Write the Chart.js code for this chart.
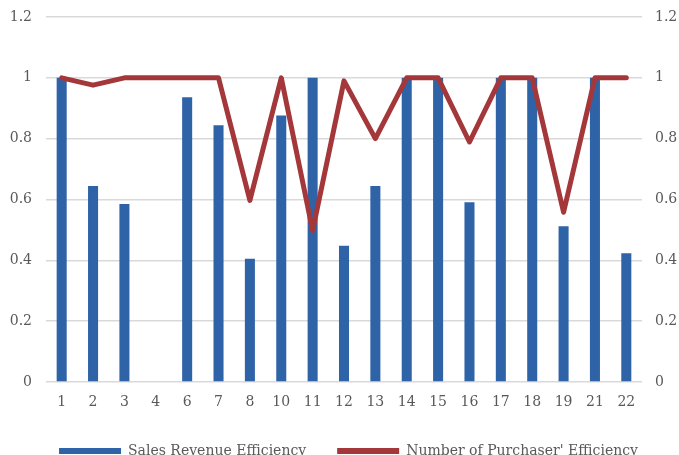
<!DOCTYPE html>
<html>
<head>
<meta charset="utf-8">
<script src="https://cdn.jsdelivr.net/npm/chart.js@4/dist/chart.umd.min.js"></script>
<style>
html,body{margin:0;padding:0;background:#fff;overflow:hidden;}
#wrap{width:679px;height:468px;}
</style>
</head>
<body>
<div id="wrap"><canvas id="c" width="679" height="468"></canvas></div>
<script>
const categories = ['1','2','3','4','6','7','8','10','11','12','13','14','15','16','17','18','19','21','22'];
const salesRevenueEfficiency = [1.0,0.644,0.585,0,0.936,0.844,0.405,0.876,1.0,0.448,0.644,1.0,1.0,0.591,1.0,1.0,0.512,1.0,0.423];
const purchaserEfficiency = [1.0,0.976,1.0,1.0,1.0,1.0,0.597,1.0,0.498,0.99,0.80,1.0,1.0,0.789,1.0,1.0,0.558,1.0,1.0];
const seriesNames = ['Sales Revenue Efficiency', "Number of Purchaser' Efficiency"];
const axisMin = 0, axisMax = 1.2, axisStep = 0.2;

const FONT = {family: 'DejaVu Serif', size: 14};
const TXT = '#595959';
const fmt = v => String(+Number(v).toFixed(1));

const legendShift = {
  id: 'legendShift',
  afterLayout(chart) {
    if (chart.legend) { chart.legend.left += 9; chart.legend.right += 9; }
  }
};

new Chart(document.getElementById('c'), {
  data: {
    labels: categories,
    datasets: [
      {
        type: 'bar',
        label: seriesNames[0],
        data: salesRevenueEfficiency,
        backgroundColor: '#2F63A8',
        borderWidth: 0,
        categoryPercentage: 1.0,
        barPercentage: 0.32,
        yAxisID: 'y',
        order: 1
      },
      {
        type: 'line',
        label: seriesNames[1],
        data: purchaserEfficiency,
        borderColor: '#A4373A',
        backgroundColor: '#A4373A',
        borderWidth: 5,
        tension: 0,
        pointRadius: 0,
        borderCapStyle: 'round',
        borderJoinStyle: 'round',
        yAxisID: 'y1',
        order: 0
      }
    ]
  },
  plugins: [legendShift],
  options: {
    responsive: false,
    animation: false,
    layout: {padding: {left: 0, right: 0, top: 17, bottom: 0}},
    plugins: {
      tooltip: {enabled: false},
      legend: {
        position: 'bottom',
        labels: {
          font: FONT,
          color: TXT,
          boxWidth: 62,
          boxHeight: 6,
          padding: 31,
          sort: (a, b) => a.datasetIndex - b.datasetIndex,
          generateLabels: (chart) => {
            const items = Chart.defaults.plugins.legend.labels.generateLabels(chart);
            items.forEach(it => { it.lineWidth = 0; });
            return items;
          }
        }
      }
    },
    scales: {
      x: {
        grid: {display: false, drawTicks: false},
        border: {display: false},
        ticks: {font: FONT, color: TXT, padding: 12, maxRotation: 0, autoSkip: false},
        afterFit: s => { s.height = 31; }
      },
      y: {
        position: 'left',
        min: axisMin, max: axisMax,
        grid: {color: '#d9d9d9', lineWidth: 1.5, drawTicks: false},
        border: {display: false},
        ticks: {stepSize: axisStep, font: FONT, color: TXT, padding: 14, callback: fmt},
        afterFit: s => { s.width = 46; s.paddingTop = 0; s.paddingBottom = 0; }
      },
      y1: {
        position: 'right',
        min: axisMin, max: axisMax,
        grid: {display: false, drawTicks: false},
        border: {display: false},
        ticks: {stepSize: axisStep, font: FONT, color: TXT, padding: 13, callback: fmt},
        afterFit: s => { s.width = 37; s.paddingTop = 0; s.paddingBottom = 0; }
      }
    }
  }
});
</script>
</body>
</html>
